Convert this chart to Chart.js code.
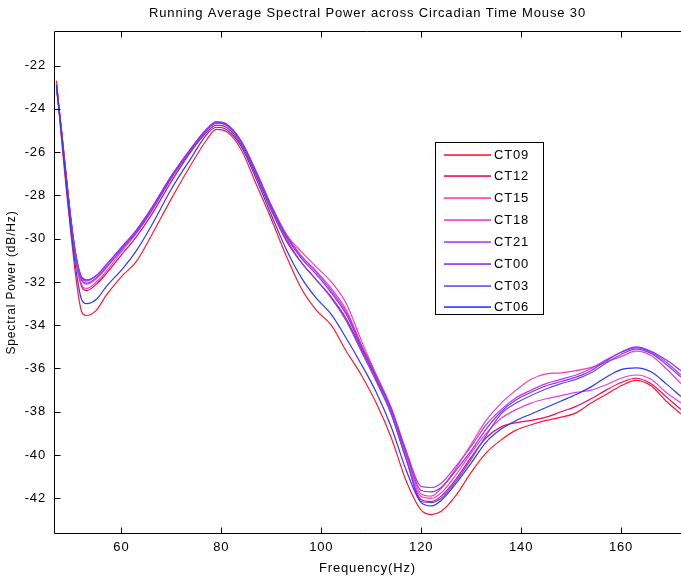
<!DOCTYPE html>
<html><head><meta charset="utf-8">
<script src="https://cdn.jsdelivr.net/npm/chart.js@4.4.1/dist/chart.umd.min.js"></script>
<style>html,body{margin:0;padding:0;background:#fff;}#wrap{width:681px;height:578px;}</style>
</head><body><div id="wrap"><canvas id="c" width="681" height="578"></canvas></div>
<script>
const titleText = 'Running Average Spectral Power across Circadian Time Mouse 30';
const xLabel = 'Frequency(Hz)';
const yLabel = 'Spectral Power (dB/Hz)';
const xTicks = [60, 80, 100, 120, 140, 160];
const yTicks = [-42, -40, -38, -36, -34, -32, -30, -28, -26, -24, -22];
const freqs = [47, 48, 49, 50, 51, 52, 53, 55, 57, 60, 63, 66, 70, 74, 77, 79, 81, 84, 87, 90, 93, 96, 99, 102, 105, 108, 111, 114, 117, 120, 122, 124, 127, 130, 133, 136, 139, 142, 145, 148, 151, 154, 157, 160, 163, 166, 169, 172];
const seriesNames = ['CT09', 'CT12', 'CT15', 'CT18', 'CT21', 'CT00', 'CT03', 'CT06'];
const ct09 = [-22.7, -25.4, -27.8, -30.0, -32.0, -33.35, -33.55, -33.3, -32.6, -31.75, -31.05, -29.85, -28.15, -26.55, -25.45, -24.95, -25.05, -25.9, -27.5, -29.1, -30.8, -32.3, -33.3, -34.0, -35.2, -36.3, -37.6, -39.2, -41.2, -42.55, -42.75, -42.6, -41.85, -40.8, -39.9, -39.3, -38.85, -38.6, -38.4, -38.25, -38.05, -37.6, -37.2, -36.8, -36.55, -36.8, -37.5, -38.1];
const ct12 = [-22.8, -25.1, -27.4, -29.5, -31.2, -32.2, -32.4, -32.1, -31.6, -30.75, -29.9, -28.9, -27.35, -25.95, -25.1, -24.75, -24.85, -25.65, -27.1, -28.7, -30.1, -31.1, -31.9, -32.7, -33.7, -35.1, -36.5, -38.1, -40.2, -42.07, -42.15, -41.9, -41.1, -40.1, -39.2, -38.7, -38.5, -38.4, -38.25, -38.0, -37.75, -37.4, -37.0, -36.65, -36.45, -36.7, -37.3, -37.9];
const ct15 = [-22.8, -25.0, -27.3, -29.4, -31.1, -32.1, -32.3, -32.0, -31.5, -30.6, -29.75, -28.75, -27.2, -25.85, -25.0, -24.65, -24.75, -25.55, -26.95, -28.5, -29.8, -30.6, -31.3, -32.0, -33.0, -34.7, -36.3, -37.9, -40.0, -41.8, -41.9, -41.55, -40.6, -39.5, -38.4, -37.6, -37.0, -36.5, -36.25, -36.2, -36.1, -35.95, -35.7, -35.45, -35.2, -35.4, -36.0, -36.7];
const ct18 = [-22.9, -25.1, -27.3, -29.4, -31.0, -31.9, -32.1, -31.85, -31.35, -30.5, -29.7, -28.7, -27.15, -25.85, -25.0, -24.65, -24.75, -25.55, -26.95, -28.55, -29.9, -30.8, -31.5, -32.3, -33.3, -34.9, -36.4, -38.0, -40.1, -41.92, -42.0, -41.75, -40.9, -39.9, -39.0, -38.3, -37.9, -37.6, -37.4, -37.25, -37.1, -37.0, -36.75, -36.45, -36.3, -36.5, -37.1, -37.6];
const ct21 = [-23.0, -25.0, -27.2, -29.3, -30.9, -31.8, -31.95, -31.7, -31.2, -30.4, -29.6, -28.6, -27.1, -25.8, -24.95, -24.6, -24.7, -25.5, -26.9, -28.45, -29.8, -30.8, -31.55, -32.4, -33.4, -34.9, -36.3, -37.8, -39.8, -41.45, -41.5, -41.3, -40.5, -39.6, -38.6, -37.9, -37.35, -37.0, -36.7, -36.5, -36.3, -36.0, -35.6, -35.25, -35.05, -35.25, -35.7, -36.3];
const ct00 = [-23.1, -25.0, -27.2, -29.3, -30.9, -31.75, -31.9, -31.7, -31.2, -30.4, -29.6, -28.6, -27.1, -25.8, -24.95, -24.6, -24.7, -25.5, -26.95, -28.5, -29.9, -30.9, -31.65, -32.5, -33.5, -35.0, -36.4, -37.9, -39.9, -41.64, -41.7, -41.5, -40.7, -39.8, -38.8, -38.0, -37.45, -37.1, -36.8, -36.6, -36.4, -36.1, -35.65, -35.25, -35.0, -35.2, -35.6, -36.1];
const ct03 = [-23.0, -25.1, -27.3, -29.4, -31.0, -31.9, -32.05, -31.8, -31.3, -30.5, -29.7, -28.7, -27.2, -25.9, -25.0, -24.65, -24.75, -25.55, -27.0, -28.6, -30.0, -31.1, -31.9, -32.75, -33.8, -35.2, -36.6, -38.1, -40.2, -42.15, -42.2, -42.0, -41.2, -40.2, -39.1, -38.1, -37.6, -37.25, -36.95, -36.7, -36.5, -36.2, -35.75, -35.35, -35.1, -35.3, -35.8, -36.4];
const ct06 = [-22.9, -25.2, -27.6, -29.8, -31.6, -32.8, -33.0, -32.8, -32.2, -31.45, -30.55, -29.4, -27.7, -26.25, -25.2, -24.85, -24.95, -25.75, -27.25, -28.9, -30.5, -31.8, -32.75, -33.5, -34.6, -35.8, -37.1, -38.7, -40.7, -42.2, -42.35, -42.1, -41.3, -40.37, -39.4, -38.8, -38.4, -38.1, -37.8, -37.5, -37.2, -36.85, -36.4, -36.05, -35.97, -36.15, -36.7, -37.3];
const seriesValues = [ct09, ct12, ct15, ct18, ct21, ct00, ct03, ct06];
const seriesColors = ['rgb(255,25,50)', 'rgb(235,10,95)', 'rgb(255,60,165)', 'rgb(235,60,215)', 'rgb(185,60,240)', 'rgb(145,45,240)', 'rgb(100,75,245)', 'rgb(45,55,255)'];

const FONT = 'Liberation Sans, Arial, sans-serif';

const framePlugin = {
  id: 'frame',
  beforeDraw(chart) {
    chart.ctx.letterSpacing = '0.85px';
  },
  afterDatasetsDraw(chart) {
    const {ctx, chartArea: a, scales} = chart;
    const L = Math.round(a.left) + 0.5, T = Math.round(a.top) + 0.5, B = Math.round(a.bottom) - 0.5, R = a.right;
    ctx.save();
    ctx.strokeStyle = '#000';
    ctx.lineWidth = 1;
    ctx.beginPath();
    ctx.moveTo(R, T); ctx.lineTo(L, T); ctx.lineTo(L, B); ctx.lineTo(R, B);
    const tl = 6;
    scales.y.ticks.forEach(t => {
      const py = Math.round(scales.y.getPixelForValue(t.value)) + 0.5;
      ctx.moveTo(L, py); ctx.lineTo(L + tl, py);
    });
    scales.x.ticks.forEach(t => {
      const px = Math.round(scales.x.getPixelForValue(t.value)) + 0.5;
      ctx.moveTo(px, B); ctx.lineTo(px, B - tl);
      ctx.moveTo(px, T); ctx.lineTo(px, T + tl);
    });
    ctx.stroke();
    ctx.restore();
  },
  afterDraw(chart) {
    const {ctx} = chart;
    const bx = 435.5, by = 142.5, bw = 108, bh = 172;
    ctx.save();
    ctx.fillStyle = '#fff';
    ctx.fillRect(bx, by, bw, bh);
    ctx.strokeStyle = '#000';
    ctx.lineWidth = 1;
    ctx.strokeRect(bx, by, bw, bh);
    ctx.font = '13px ' + FONT;
    ctx.letterSpacing = '0.85px';
    ctx.textBaseline = 'middle';
    ctx.textAlign = 'left';
    chart.data.datasets.forEach((ds, i) => {
      const yy = Math.round(154.5 + i * 21.85);
      ctx.fillStyle = seriesColors[i];
      ctx.fillRect(444, yy - 0.75, 47, 1.6);
      ctx.fillStyle = '#000';
      ctx.fillText(ds.label, 494, yy + 0.5);
    });
    ctx.restore();
  }
};

new Chart(document.getElementById('c'), {
  type: 'line',
  data: {
    datasets: seriesNames.map((name, i) => ({
      label: name,
      data: freqs.map((f, k) => ({x: f, y: seriesValues[i][k]})),
      borderColor: seriesColors[i],
      backgroundColor: seriesColors[i],
      borderWidth: 1.2,
      pointRadius: 0,
      fill: false,
      cubicInterpolationMode: 'monotone',
      order: seriesNames.length - 1 - i
    }))
  },
  options: {
    responsive: false,
    animation: false,
    devicePixelRatio: 1,
    layout: {padding: 0},
    plugins: {
      legend: {display: false},
      tooltip: {enabled: false},
      title: {
        display: true, text: titleText, fullSize: false,
        color: '#000', font: {family: FONT, size: 13, weight: 'normal', lineHeight: 1.2},
        padding: {top: 6, bottom: 9.4}
      }
    },
    scales: {
      x: {
        type: 'linear', min: 46.5, max: 172,
        afterBuildTicks: s => { s.ticks = xTicks.map(v => ({value: v})); },
        afterFit: s => { s.height = 44; },
        grid: {display: false, drawTicks: false},
        border: {display: false},
        ticks: {color: '#000', font: {family: FONT, size: 13}, padding: 6, maxRotation: 0, autoSkip: false},
        title: {display: true, text: xLabel, color: '#000', font: {family: FONT, size: 13}, padding: {top: 0, bottom: 2}}
      },
      y: {
        type: 'linear', min: -43.65, max: -20.4,
        afterBuildTicks: s => { s.ticks = yTicks.map(v => ({value: v})); },
        afterFit: s => { s.width = 54; },
        grid: {display: false, drawTicks: false},
        border: {display: false},
        ticks: {color: '#000', font: {family: FONT, size: 13}, padding: 8, autoSkip: false},
        title: {display: true, text: yLabel, color: '#000', font: {family: FONT, size: 12}, padding: {top: 4, bottom: 0}}
      }
    }
  },
  plugins: [framePlugin]
});
</script></body></html>
